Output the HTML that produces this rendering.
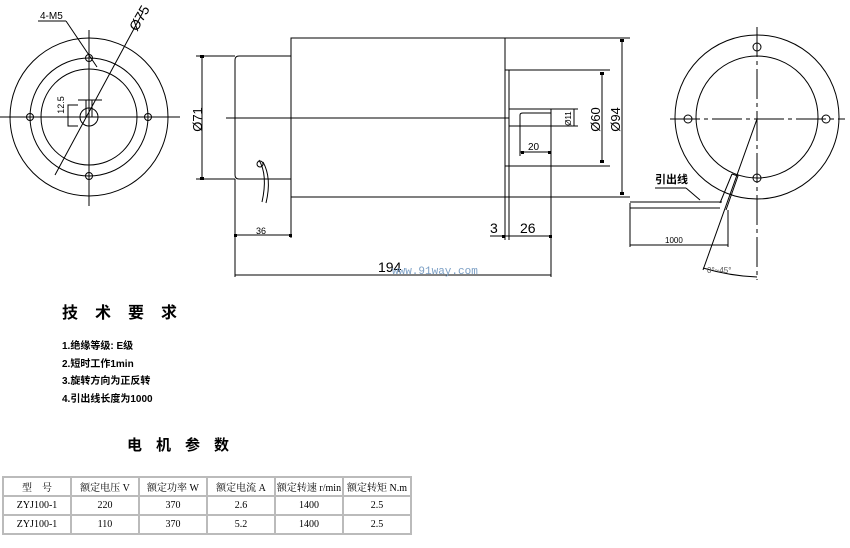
<!DOCTYPE html>
<html><head><meta charset="utf-8"><style>
body{margin:0;background:#fff;width:850px;height:548px;overflow:hidden;position:relative;font-family:"Liberation Sans","Noto Sans CJK SC",sans-serif}
svg{position:absolute;left:0;top:0}
.t{position:absolute;white-space:nowrap;color:#000}
table{position:absolute;left:2px;top:476px;border-collapse:collapse;table-layout:fixed;width:408px;font-family:"Liberation Serif","Noto Serif CJK SC",serif;font-size:10px}
td{border:2px solid #bbb;height:17px;text-align:center;padding:0;white-space:nowrap;overflow:hidden}
</style></head><body>
<svg width="850" height="548" viewBox="0 0 850 548" fill="none" stroke="#000" stroke-width="1">
<circle cx="89" cy="117" r="79"/>
<circle cx="89" cy="117" r="59"/>
<circle cx="89" cy="117" r="48"/>
<circle cx="89" cy="117" r="9"/>
<line x1="0" y1="117" x2="180" y2="117"/>
<line x1="89" y1="30" x2="89" y2="206"/>
<circle cx="89" cy="58" r="3.5"/><circle cx="89" cy="176" r="3.5"/>
<circle cx="30" cy="117" r="3.5"/><circle cx="148" cy="117" r="3.5"/>
<line x1="55" y1="175" x2="143" y2="12"/>
<line x1="38" y1="21" x2="66" y2="21"/><line x1="66" y1="21" x2="97" y2="67"/>
<rect x="86" y="100" width="6" height="17"/>
<line x1="78" y1="100" x2="102" y2="100"/>
<polyline points="78,105 68,105 68,126 78,126"/>
<rect x="291" y="38" width="214" height="159"/>
<path d="M291 56 H239 Q235 56 235 60 V175 Q235 179 239 179 H291"/>
<rect x="505" y="70" width="4" height="96"/>
<rect x="509" y="109" width="42" height="17"/>
<path d="M520 126 V115 Q520 113 523 113 H551"/>
<line x1="226" y1="118" x2="509" y2="118"/>
<line x1="196" y1="56" x2="235" y2="56"/><line x1="196" y1="179" x2="235" y2="179"/>
<line x1="202" y1="56" x2="202" y2="179"/>
<line x1="505" y1="38" x2="630" y2="38"/><line x1="505" y1="197" x2="630" y2="197"/>
<line x1="622" y1="40" x2="622" y2="194"/>
<line x1="509" y1="70" x2="610" y2="70"/><line x1="509" y1="166" x2="610" y2="166"/>
<line x1="602" y1="73" x2="602" y2="162"/>
<line x1="551" y1="109" x2="578" y2="109"/><line x1="551" y1="126" x2="578" y2="126"/>
<line x1="574" y1="109" x2="574" y2="126"/>
<line x1="520" y1="126" x2="520" y2="156"/><line x1="520" y1="152" x2="551" y2="152"/>
<line x1="235" y1="179" x2="235" y2="277"/><line x1="291" y1="197" x2="291" y2="238"/>
<line x1="235" y1="235" x2="291" y2="235"/>
<line x1="505" y1="166" x2="505" y2="240"/><line x1="509" y1="166" x2="509" y2="240"/>
<line x1="551" y1="126" x2="551" y2="277"/>
<line x1="490" y1="236" x2="551" y2="236"/>
<line x1="235" y1="275" x2="551" y2="275"/>
<path d="M259 160 Q268 175 262 202 M263 162 Q272 178 266 203" />
<circle cx="260" cy="164" r="3"/>
<g fill="#000" stroke="none">
<rect x="200" y="55" width="4" height="3"/><rect x="200" y="177" width="4" height="3"/>
<rect x="620" y="39" width="4" height="3"/><rect x="620" y="192" width="4" height="3"/>
<rect x="600" y="72" width="4" height="3"/><rect x="600" y="160" width="4" height="3"/>
<rect x="234" y="234" width="3" height="3"/><rect x="289" y="234" width="3" height="3"/>
<rect x="502" y="235" width="3" height="3"/><rect x="549" y="235" width="3" height="3"/>
<rect x="521" y="151" width="3" height="3"/><rect x="548" y="151" width="3" height="3"/>
</g>
<circle cx="757" cy="117" r="82"/>
<circle cx="757" cy="117" r="61"/>
<line x1="670" y1="119" x2="845" y2="119" stroke-dasharray="30,4,4,4"/>
<line x1="757" y1="27" x2="757" y2="280" stroke-dasharray="30,4,4,4"/>
<circle cx="757" cy="47" r="4"/><circle cx="757" cy="178" r="4"/>
<circle cx="688" cy="119" r="4"/><circle cx="826" cy="119" r="4"/>
<line x1="757" y1="119" x2="703" y2="270"/>
<path d="M732 174 L738 176 L726 210 M732 174 L720 203"/>
<line x1="630" y1="202" x2="722" y2="202"/><line x1="630" y1="208" x2="720" y2="208"/>
<line x1="630" y1="203" x2="630" y2="247"/><line x1="728" y1="210" x2="728" y2="247"/>
<line x1="630" y1="245" x2="728" y2="245"/>
<line x1="655" y1="188" x2="686" y2="188"/><line x1="686" y1="188" x2="700" y2="200"/>
<path d="M703 268 Q730 276 757 277"/>
</svg>
<div class="t" style="left:40px;top:11px;font-size:10px">4-M5</div>
<div class="t" style="left:126px;top:10px;font-size:14px;transform:rotate(-60deg)">Ø75</div>
<div class="t" style="left:52px;top:100px;font-size:9px;transform:rotate(-90deg)">12.5</div>
<div class="t" style="left:185px;top:112px;font-size:13px;transform:rotate(-90deg)">Ø71</div>
<div class="t" style="left:583px;top:112px;font-size:13px;transform:rotate(-90deg)">Ø60</div>
<div class="t" style="left:603px;top:112px;font-size:13px;transform:rotate(-90deg)">Ø94</div>
<div class="t" style="left:561px;top:114px;font-size:8px;transform:rotate(-90deg)">Ø11</div>
<div class="t" style="left:528px;top:142px;font-size:10px">20</div>
<div class="t" style="left:256px;top:226px;font-size:9px">36</div>
<div class="t" style="left:490px;top:220px;font-size:14px">3</div>
<div class="t" style="left:520px;top:220px;font-size:14px">26</div>
<div class="t" style="left:378px;top:259px;font-size:14px">194</div>
<div class="t" style="left:392px;top:266px;font-size:11px;color:#7a9ec4;font-family:'Liberation Mono',monospace">www.91way.com</div>
<div class="t" style="left:655px;top:171px;font-size:11px;font-weight:bold">引出线</div>
<div class="t" style="left:665px;top:236px;font-size:8px">1000</div>
<div class="t" style="left:707px;top:266px;font-size:8px;color:#555">0°~45°</div>
<div class="t" style="left:62px;top:299px;font-size:16px;font-weight:bold;letter-spacing:17px">技术要求</div>
<div class="t" style="left:62px;top:338px;font-size:10px;font-weight:bold;line-height:17.5px">1.绝缘等级: E级<br>2.短时工作1min<br>3.旋转方向为正反转<br>4.引出线长度为1000</div>
<div class="t" style="left:127px;top:434px;font-size:15px;font-weight:bold;letter-spacing:14px">电机参数</div>
<table>
<tr><td style="width:66px">型&nbsp;&nbsp;&nbsp;&nbsp;号</td><td style="width:66px">额定电压 V</td><td style="width:66px">额定功率 W</td><td style="width:66px">额定电流 A</td><td style="width:66px">额定转速 r/min</td><td style="width:66px">额定转矩 N.m</td></tr>
<tr><td>ZYJ100-1</td><td>220</td><td>370</td><td>2.6</td><td>1400</td><td>2.5</td></tr>
<tr><td>ZYJ100-1</td><td>110</td><td>370</td><td>5.2</td><td>1400</td><td>2.5</td></tr>
</table>
</body></html>
